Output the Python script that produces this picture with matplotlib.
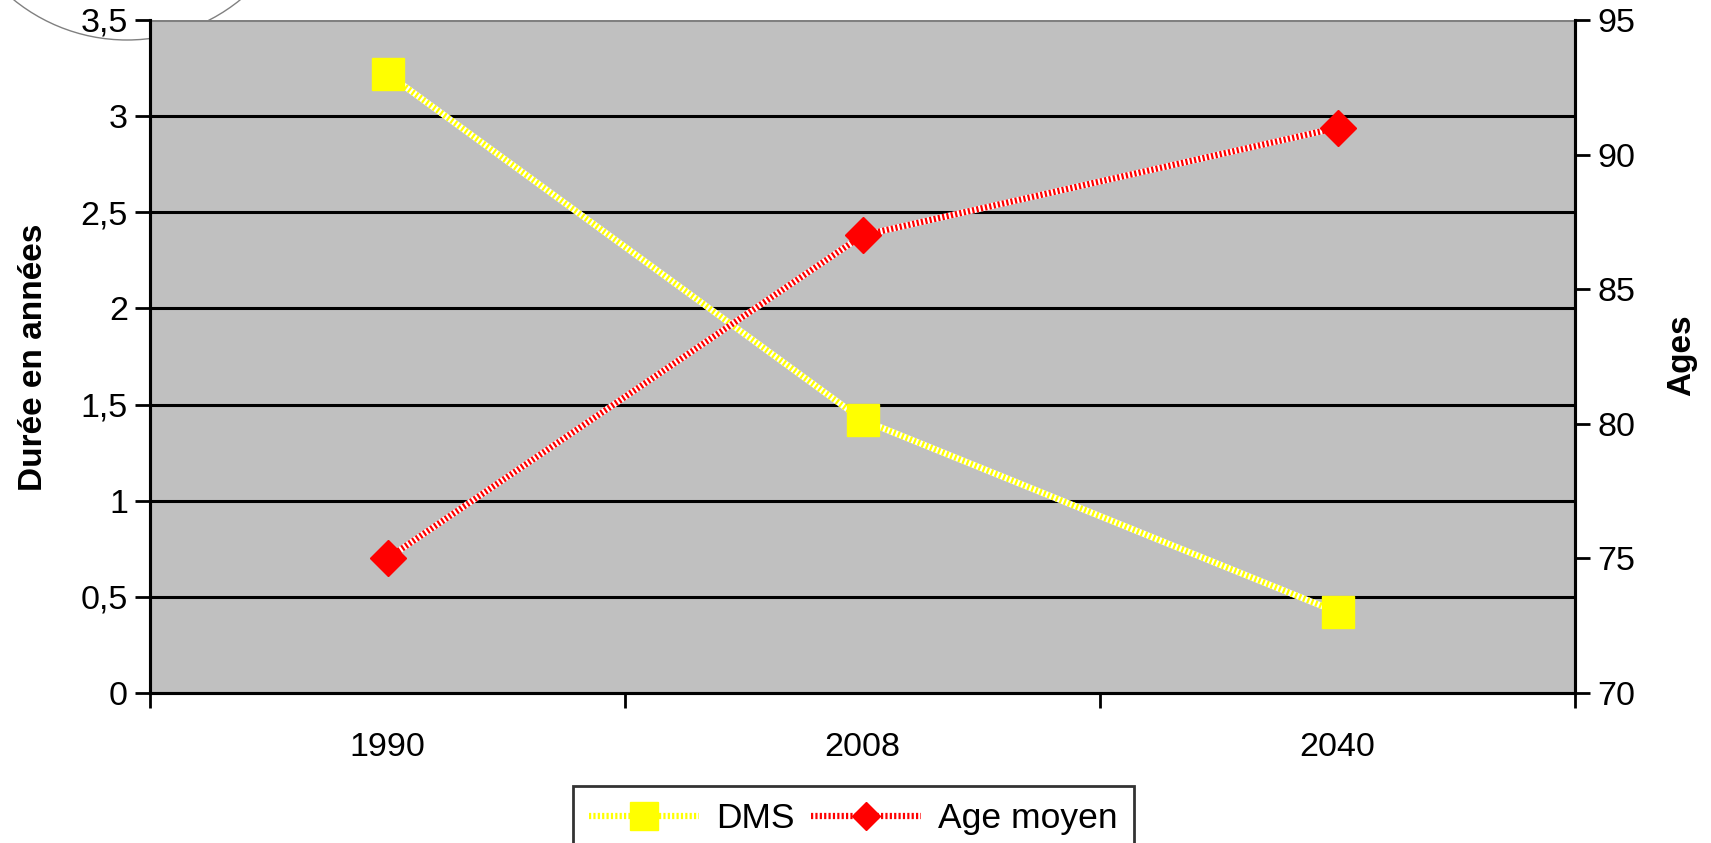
# -*- coding: utf-8 -*-
import matplotlib
matplotlib.use('Agg')
from matplotlib import pyplot as plt
from matplotlib.patches import Ellipse
from matplotlib.lines import Line2D

plt.rcParams['font.family'] = ['Liberation Sans', 'DejaVu Sans']

years = ['1990', '2008', '2040']
dms = [3.22, 1.42, 0.42]
age_moyen = [75, 87, 91]
left_ticks = [0, 0.5, 1, 1.5, 2, 2.5, 3, 3.5]
left_labels = ['0', '0,5', '1', '1,5', '2', '2,5', '3', '3,5']
right_ticks = [70, 75, 80, 85, 90, 95]

W, H = 1711, 843
fig = plt.figure(figsize=(W / 100, H / 100), dpi=100)

# cercle gris decoratif en haut a gauche (coupe par le cadre)
circle = Ellipse((127 / W, 1 + 139.6 / H), 2 * 179.6 / W, 2 * 179.6 / H,
                 transform=fig.transFigure, fill=False, edgecolor='#808080',
                 lw=1.0, zorder=-1)
fig.patches.append(circle)

ax = fig.add_axes([150 / W, 1 - 693 / H, 1425 / W, 673 / H])
ax.set_facecolor('#C0C0C0')
x = list(range(len(years)))

ax.set_xlim(-0.5, len(years) - 0.5)
ax.set_ylim(0, 3.5)
ax.set_yticks(left_ticks)
ax.set_yticklabels(left_labels)
for v in left_ticks[1:-1]:
    ax.axhline(v, color='black', lw=2.2, zorder=1)
ax.axhline(3.5, color='#808080', lw=2.2, zorder=1)

ax.set_xticks([i - 0.5 for i in range(len(years) + 1)])
ax.set_xticklabels([])
ax.set_xticks(x, minor=True)
ax.set_xticklabels(years, minor=True)
ax.tick_params(axis='x', which='major', length=11, width=2, direction='out')
ax.tick_params(axis='x', which='minor', length=0, pad=28, labelsize=24.5)
ax.tick_params(axis='y', length=11, width=2, direction='out', labelsize=24.5, pad=5)

for s in ['left', 'bottom', 'right']:
    ax.spines[s].set_linewidth(2.2)
    ax.spines[s].set_color('black')
ax.spines['top'].set_visible(False)

# DMS : ligne jaune a damier
ax.plot(x, dms, color='white', lw=4.5, zorder=3, solid_capstyle='butt')
ax.plot(x, dms, color='#FFFF00', lw=4.5, ls=(0, (0.35, 0.35)), zorder=3)
ax.plot(x, dms, ls='none', marker='s', ms=23, color='#FFFF00', zorder=4)

ax2 = ax.twinx()
ax2.set_ylim(70, 95)
ax2.set_yticks(right_ticks)
ax2.tick_params(axis='y', length=11, width=2, direction='out', labelsize=24.5, pad=5)
for s in ['left', 'bottom', 'right']:
    ax2.spines[s].set_linewidth(2.2)
ax2.spines['top'].set_visible(False)

ax2.plot(x, age_moyen, color='white', lw=4.5, zorder=3, solid_capstyle='butt')
ax2.plot(x, age_moyen, color='#FF0000', lw=4.5, ls=(0, (0.35, 0.35)), zorder=3)
ax2.plot(x, age_moyen, ls='none', marker='D', ms=18.5, color='#FF0000', zorder=4)

fig.text(34 / W, 1 - 357 / H, 'Durée en années', rotation=90, ha='center',
         va='center', fontsize=24, fontweight='bold')
fig.text(1682 / W, 1 - 355 / H, 'Ages', rotation=90, ha='center',
         va='center', fontsize=24, fontweight='bold')

# legende
h1 = (Line2D([], [], color='white', lw=4.5),
      Line2D([], [], color='#FFFF00', lw=4.5, ls=(0, (0.35, 0.35)),
             marker='s', ms=20, markerfacecolor='#FFFF00', markeredgecolor='#FFFF00'))
h2 = (Line2D([], [], color='white', lw=4.5),
      Line2D([], [], color='#FF0000', lw=4.5, ls=(0, (0.35, 0.35)),
             marker='D', ms=14, markerfacecolor='#FF0000', markeredgecolor='#FF0000'))
leg = fig.legend([h1, h2], ['DMS', 'Age moyen'], ncol=2, loc='upper left',
                 bbox_to_anchor=(573 / W, 1 - 786 / H), fontsize=25.5,
                 frameon=True, fancybox=False, edgecolor='black',
                 handlelength=3.1, handletextpad=0.5, columnspacing=0.45,
                 borderpad=0.45, borderaxespad=0)
leg.get_frame().set_linewidth(2)

fig.savefig('out.png', dpi=100)
